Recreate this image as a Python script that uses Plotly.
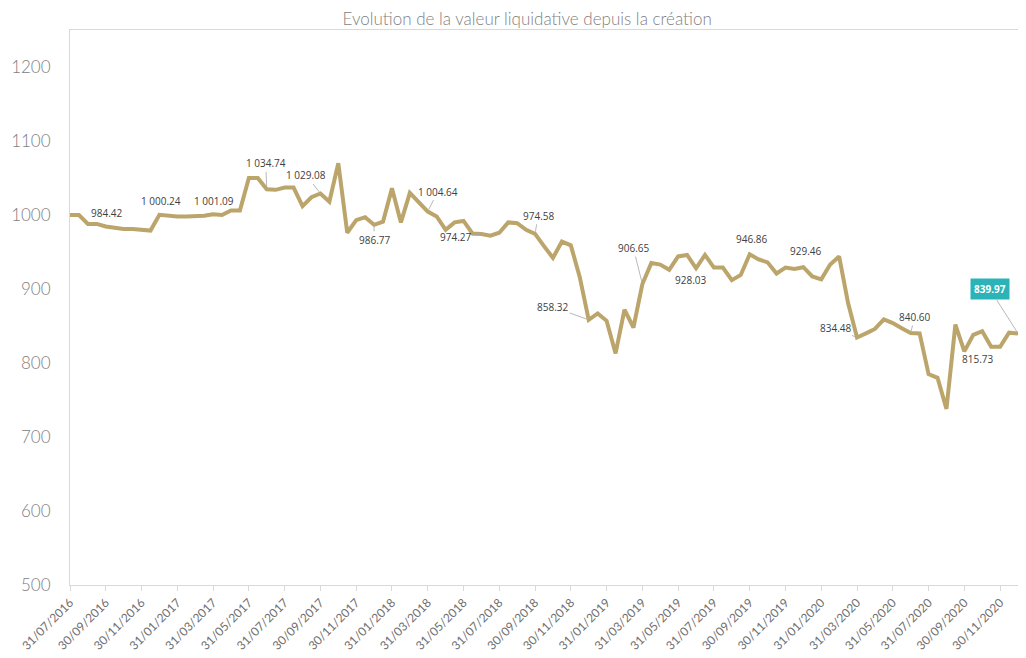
import calendar
import plotly.graph_objects as go

# ---------------- data ----------------
# semi-monthly valuation dates (mid-month and month end)
dates = ["31/07/2016"]
yy, mm = 2016, 8
while (yy, mm) <= (2020, 12):
    dates.append(f"15/{mm:02d}/{yy}")
    dates.append(f"{calendar.monthrange(yy, mm)[1]:02d}/{mm:02d}/{yy}")
    mm += 1
    if mm > 12:
        mm = 1
        yy += 1

nav_values = [
    1000, 1000, 988, 988, 984.42, 983, 981, 981, 980, 979,
    1000.24, 999, 998, 998, 998, 999, 1001.09, 1000, 1006, 1006,
    1050, 1050, 1034.74, 1034, 1037, 1037, 1012, 1024, 1029.08, 1018,
    1070, 976, 993, 997, 986.77, 991, 1036, 990, 1030, 1018,
    1004.64, 998, 980, 990, 992, 975, 974.27, 972, 976, 990,
    989, 980, 974.58, 958, 942, 964, 959, 916, 858.32, 867,
    857, 813, 872, 848, 906.65, 935, 933, 926, 944, 946,
    928.03, 946, 929, 929, 912, 919, 946.86, 940, 936, 921,
    929, 927, 929.46, 917, 913, 933, 944, 881, 834.48, 840,
    846, 859, 854, 847, 840.60, 840, 785, 780, 738, 852,
    815.73, 838, 843, 822, 822, 841, 839.97,
]

tick_labels = [
    "31/07/2016", "30/09/2016", "30/11/2016", "31/01/2017", "31/03/2017",
    "31/05/2017", "31/07/2017", "30/09/2017", "30/11/2017", "31/01/2018",
    "31/03/2018", "31/05/2018", "31/07/2018", "30/09/2018", "30/11/2018",
    "31/01/2019", "31/03/2019", "31/05/2019", "31/07/2019", "30/09/2019",
    "30/11/2019", "31/01/2020", "31/03/2020", "31/05/2020", "31/07/2020",
    "30/09/2020", "30/11/2020",
]

y_ticks = [500, 600, 700, 800, 900, 1000, 1100, 1200]

# quarter-end data labels (index into series)
label_idx = [4, 10, 16, 22, 28, 34, 40, 46, 52, 58, 64, 70, 76, 82, 88, 94, 100, 106]

# ---------------- styling of labels (pixel offsets) ----------------
# (arrow?, ax/xshift, ay/yshift)
label_style = {
    4: (False, 1, 14),
    10: (False, 2, 14),
    16: (False, 1, 13),
    22: (True, -1, -26),
    28: (True, -14, -18),
    34: (True, 0, 15),
    40: (True, 10, -20),
    46: (True, -26, 3),
    52: (True, 3, -18),
    58: (True, -36, -13),
    64: (True, -9, -36),
    70: (False, -6, -12),
    76: (False, 2, 15),
    82: (False, 2, 16),
    88: (True, -22, -9),
    94: (True, 4, -16),
    100: (False, 13, -8),
    106: (True, -28, -44),
}

LINE_COLOR = "#BBA56B"
GRAY = "#808080"
LABEL_COLOR = "#404040"

fig = go.Figure()
fig.add_trace(go.Scatter(
    x=dates, y=nav_values, mode="lines",
    line=dict(color=LINE_COLOR, width=4),
    hoverinfo="x+y", showlegend=False,
))

def fmt(v):
    return f"{v:,.2f}".replace(",", " ")

annotations = []
for i in label_idx:
    arrow, dx, dy = label_style[i]
    ann = dict(x=dates[i], y=nav_values[i], xref="x", yref="y",
               text=fmt(nav_values[i]),
               font=dict(family="Open Sans", size=10, color=LABEL_COLOR))
    if i == label_idx[-1]:
        ann.update(font=dict(family="Open Sans", size=10, color="white"),
                   text="<b>" + fmt(nav_values[i]) + "</b>",
                   bgcolor="#2BB3B7", borderpad=3)
    if arrow:
        ann.update(showarrow=True, arrowhead=0, arrowwidth=0.8,
                   arrowcolor="#A6A6A6", ax=dx, ay=dy, standoff=2)
    else:
        ann.update(showarrow=False, xshift=dx, yshift=dy)
    annotations.append(ann)

# the page body adds an 8px offset; size/margins compensate for it
fig.update_layout(
    width=1018, height=650,
    margin=dict(l=62, r=8, t=22, b=73, autoexpand=False),
    paper_bgcolor="white", plot_bgcolor="white",
    title=dict(text="Evolution de la valeur liquidative depuis la création",
               x=0.51, xanchor="center", y=0.983, yanchor="middle",
               font=dict(family="Lato", size=17, color="#7F7F7F", weight=300)),
    annotations=annotations,
    xaxis=dict(
        type="category", range=[0, len(dates) - 1], automargin=False,
        tickmode="array", tickvals=tick_labels, ticktext=tick_labels,
        tickangle=-45, ticks="outside", ticklen=5, tickcolor="#D9D9D9",
        showline=True, linecolor="#D9D9D9", linewidth=1, mirror=True,
        showgrid=False, zeroline=False,
        tickfont=dict(family="Lato", size=12, color="#6F6F6F"),
    ),
    yaxis=dict(
        range=[500, 1250], tickmode="array", tickvals=y_ticks, automargin=False,
        showline=True, linecolor="#D9D9D9", linewidth=1, mirror=True,
        showgrid=False, zeroline=False, ticks="", ticklabelstandoff=15,
        tickfont=dict(family="Lato", size=17, color=GRAY, weight=300),
    ),
)

fig.write_html("out.html")
